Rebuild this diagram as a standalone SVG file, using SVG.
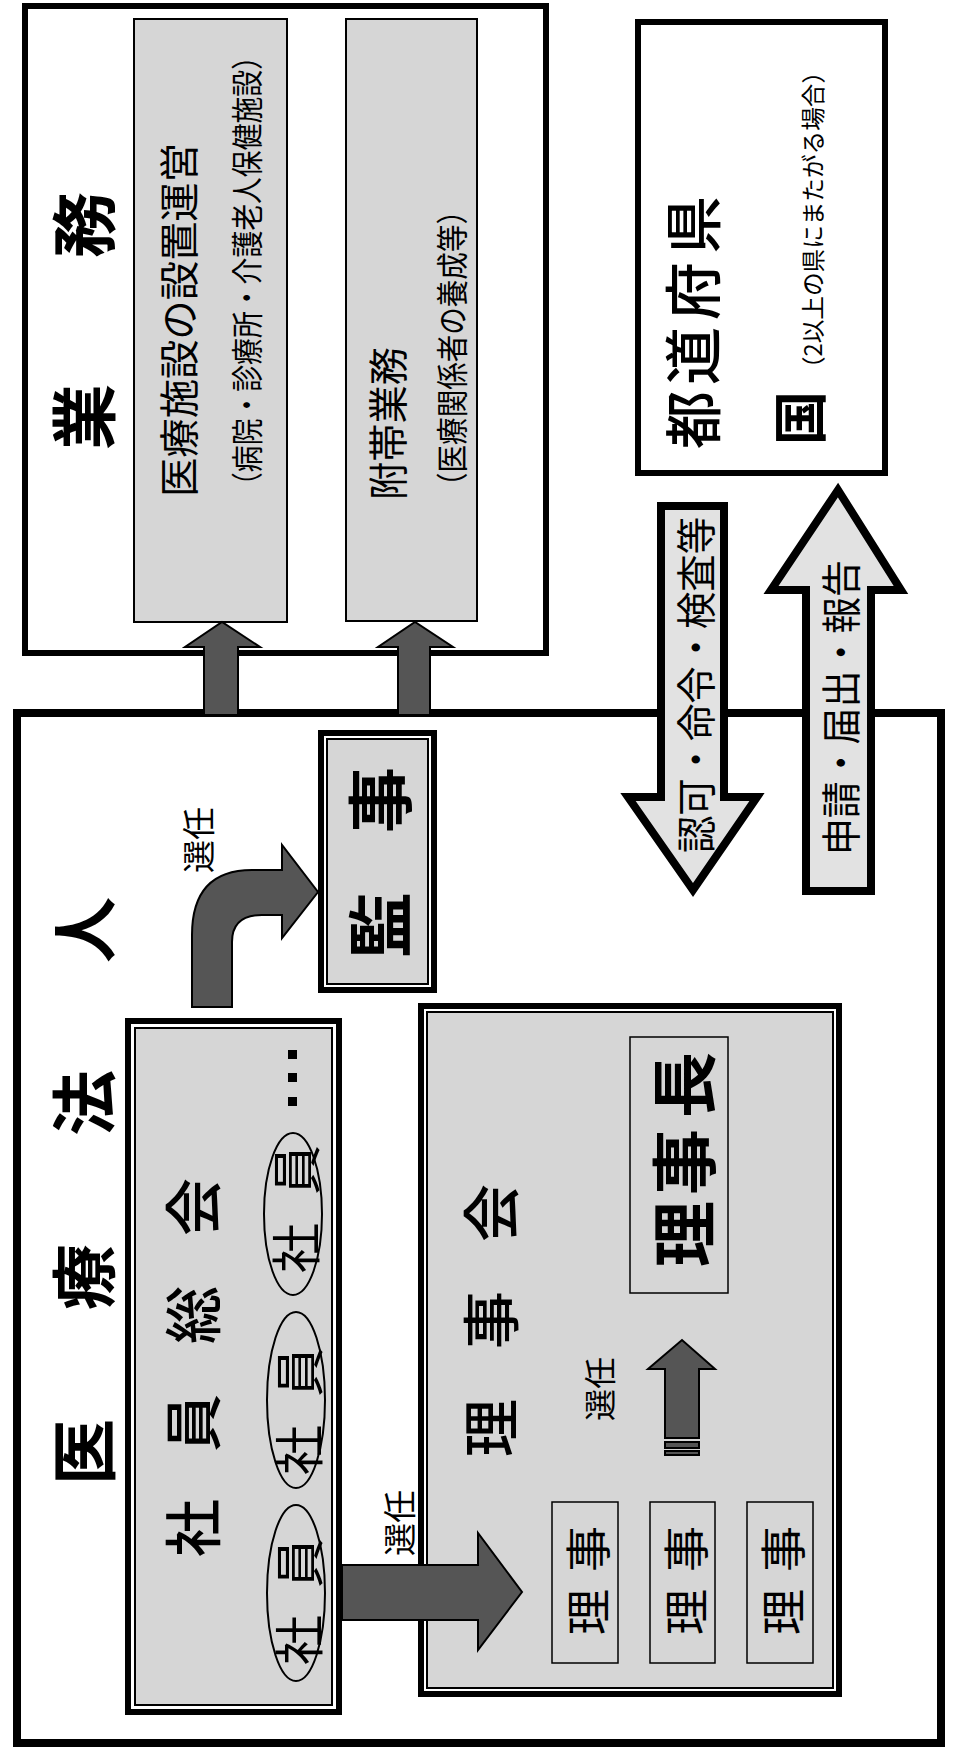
<svg xmlns="http://www.w3.org/2000/svg" width="956" height="1751" viewBox="0 0 956 1751">
<style>
text{font-family:"Noto Sans CJK JP","Noto Sans CJK SC",sans-serif;fill:#000;dominant-baseline:central}
.c{text-anchor:middle}
.s{text-anchor:start}
.big{font-size:66px;font-weight:700}
.mid{font-size:58px;font-weight:500}
.thick{fill:none;stroke:#000;stroke-width:8}
.frame{fill:none;stroke:#000;stroke-width:6}
.lt{fill:#d6d6d6;stroke:#000;stroke-width:2}
.inner{fill:none;stroke:#000;stroke-width:1.5}
.dk{fill:#555;stroke:#000;stroke-width:2}
.bigarrow{fill:#e2e2e2;stroke:#000;stroke-width:8;stroke-linejoin:miter}
</style>

<!-- 業務 -->
<g id="gyomu">
  <rect x="25" y="6" width="521" height="647" class="frame" fill="#fff"/>
  <text class="c big" transform="translate(80,417) rotate(-90)">業</text>
  <text class="c big" transform="translate(80,225) rotate(-90)">務</text>
</g>
<g id="gyomu-main">
  <rect x="134" y="19" width="153" height="603" class="lt"/>
  <text class="s" font-size="40" textLength="354" lengthAdjust="spacingAndGlyphs" transform="translate(177,497) rotate(-90)">医療施設の設置運営</text>
  <text class="s" font-size="32" textLength="456" lengthAdjust="spacingAndGlyphs" transform="translate(245,499) rotate(-90)">（病院・診療所・介護老人保健施設）</text>
</g>
<g id="gyomu-sub">
  <rect x="346" y="19" width="131" height="602" class="lt"/>
  <text class="s" font-size="40" textLength="153" lengthAdjust="spacingAndGlyphs" transform="translate(386,500) rotate(-90)">附帯業務</text>
  <text class="s" font-size="32" textLength="303" lengthAdjust="spacingAndGlyphs" transform="translate(450,500) rotate(-90)">（医療関係者の養成等）</text>
</g>

<!-- 都道府県 -->
<g id="todofuken">
  <rect x="638" y="22" width="247" height="451" class="frame" fill="#fff"/>
  <text class="c mid" transform="translate(690,420) rotate(-90)">都</text>
  <text class="c mid" transform="translate(690,356) rotate(-90)">道</text>
  <text class="c mid" transform="translate(690,291) rotate(-90)">府</text>
  <text class="c mid" transform="translate(690,225) rotate(-90)">県</text>
  <text class="c" font-size="54" font-weight="700" transform="translate(797,418) rotate(-90)">国</text>
  <text class="s" font-size="24" textLength="320" lengthAdjust="spacingAndGlyphs" transform="translate(811,380) rotate(-90)">（2以上の県にまたがる場合）</text>
</g>

<!-- 医療法人 -->
<g id="iryohojin">
  <rect x="17" y="713" width="924" height="1030" class="thick" fill="#fff"/>
  <text class="c big" font-size="68" transform="translate(80,1452) rotate(-90)">医</text>
  <text class="c big" font-size="68" transform="translate(80,1277) rotate(-90)">療</text>
  <text class="c big" font-size="68" transform="translate(80,1103) rotate(-90)">法</text>
  <text class="c big" font-size="68" transform="translate(80,930) rotate(-90)">人</text>
</g>

<!-- 監事 -->
<g id="kanji">
  <rect x="321" y="733" width="113" height="257" fill="#fff" stroke="#000" stroke-width="6"/>
  <rect x="327" y="739" width="101" height="245" class="lt"/>
  <text class="c big" font-size="64" transform="translate(376,925) rotate(-90)">監</text>
  <text class="c big" font-size="64" transform="translate(376,800) rotate(-90)">事</text>
</g>

<!-- 社員総会 -->
<g id="shainsokai">
  <rect x="128" y="1021" width="211" height="691" fill="#fff" stroke="#000" stroke-width="6"/>
  <rect x="135" y="1028" width="197" height="677" class="lt"/>
  <text class="c mid" transform="translate(190,1528) rotate(-90)">社</text>
  <text class="c mid" transform="translate(190,1423) rotate(-90)">員</text>
  <text class="c mid" transform="translate(190,1315) rotate(-90)">総</text>
  <text class="c mid" transform="translate(190,1207) rotate(-90)">会</text>
  <g id="shain1">
    <ellipse cx="296" cy="1593" rx="29" ry="88" fill="none" stroke="#000" stroke-width="2"/>
    <text class="c" font-size="50" transform="translate(296,1640) rotate(-90)">社</text>
    <text class="c" font-size="50" transform="translate(296,1563) rotate(-90)">員</text>
  </g>
  <g id="shain2">
    <ellipse cx="296" cy="1400" rx="29" ry="88" fill="none" stroke="#000" stroke-width="2"/>
    <text class="c" font-size="50" transform="translate(296,1450) rotate(-90)">社</text>
    <text class="c" font-size="50" transform="translate(296,1372) rotate(-90)">員</text>
  </g>
  <g id="shain3">
    <ellipse cx="293" cy="1214" rx="29" ry="81" fill="none" stroke="#000" stroke-width="2"/>
    <text class="c" font-size="50" transform="translate(293,1248) rotate(-90)">社</text>
    <text class="c" font-size="50" transform="translate(293,1170) rotate(-90)">員</text>
  </g>
  <rect x="288" y="1050" width="9" height="9"/>
  <rect x="288" y="1073" width="9" height="9"/>
  <rect x="288" y="1097" width="9" height="9"/>
</g>

<!-- 理事会 -->
<g id="rijikai">
  <rect x="421" y="1006" width="418" height="688" fill="#fff" stroke="#000" stroke-width="6"/>
  <rect x="427" y="1012" width="406" height="676" class="lt"/>
  <text class="c mid" transform="translate(488,1428) rotate(-90)">理</text>
  <text class="c mid" transform="translate(488,1320) rotate(-90)">事</text>
  <text class="c mid" transform="translate(488,1213) rotate(-90)">会</text>
  <text class="c" font-size="32" transform="translate(598,1389) rotate(-90)">選任</text>
</g>
<g id="rijicho">
  <rect x="630" y="1037" width="98" height="256" class="inner" fill="#d6d6d6"/>
  <text class="c big" transform="translate(680,1234) rotate(-90)">理</text>
  <text class="c big" transform="translate(680,1162) rotate(-90)">事</text>
  <text class="c big" transform="translate(680,1085) rotate(-90)">長</text>
</g>
<g id="riji1">
  <rect x="552" y="1502" width="66" height="161" class="inner" fill="#d6d6d6"/>
  <text class="c" font-size="46" transform="translate(585,1612) rotate(-90)">理</text>
  <text class="c" font-size="46" transform="translate(585,1549) rotate(-90)">事</text>
</g>
<g id="riji2">
  <rect x="650" y="1502" width="65" height="161" class="inner" fill="#d6d6d6"/>
  <text class="c" font-size="46" transform="translate(683,1612) rotate(-90)">理</text>
  <text class="c" font-size="46" transform="translate(683,1549) rotate(-90)">事</text>
</g>
<g id="riji3">
  <rect x="747" y="1502" width="66" height="161" class="inner" fill="#d6d6d6"/>
  <text class="c" font-size="46" transform="translate(780,1612) rotate(-90)">理</text>
  <text class="c" font-size="46" transform="translate(780,1549) rotate(-90)">事</text>
</g>

<!-- connectors -->
<g id="connectors">
  <path class="dk" d="M204,715 L204,647 L185,647 L222,622 L260,647 L238,647 L238,715 Z"/>
  <path class="dk" d="M398,715 L398,647 L378,647 L415,622 L453,647 L430,647 L430,715 Z"/>
  <path class="dk" d="M192,1007 L192,935 Q192,870 252,870 L282,870 L282,845 L318,892 L282,938 L282,915 L262,915 Q232,915 232,942 L232,1007 Z"/>
  <text class="c" font-size="33" transform="translate(197,840) rotate(-90)">選任</text>
  <path class="dk" d="M342,1565 L478,1565 L478,1533 L522,1592 L478,1650 L478,1620 L342,1620 Z"/>
  <text class="c" font-size="33" transform="translate(398,1523) rotate(-90)">選任</text>
  <path class="dk" d="M665,1438 L665,1369 L648,1369 L682,1340 L715,1369 L699,1369 L699,1438 Z"/>
  <rect x="665" y="1442" width="34" height="6" class="dk"/>
  <rect x="665" y="1451" width="34" height="4" class="dk"/>
  <path class="bigarrow" d="M661,506 L724,506 L724,797 L757,797 L693,890 L628,797 L661,797 Z"/>
  <text class="s" font-size="40" textLength="336" lengthAdjust="spacingAndGlyphs" transform="translate(694,853) rotate(-90)">認可・命令・検査等</text>
  <path class="bigarrow" d="M806,891 L806,590 L771,590 L838,490 L901,590 L871,590 L871,891 Z"/>
  <text class="s" font-size="40" textLength="295" lengthAdjust="spacingAndGlyphs" transform="translate(839,855) rotate(-90)">申請・届出・報告</text>
</g>
</svg>
